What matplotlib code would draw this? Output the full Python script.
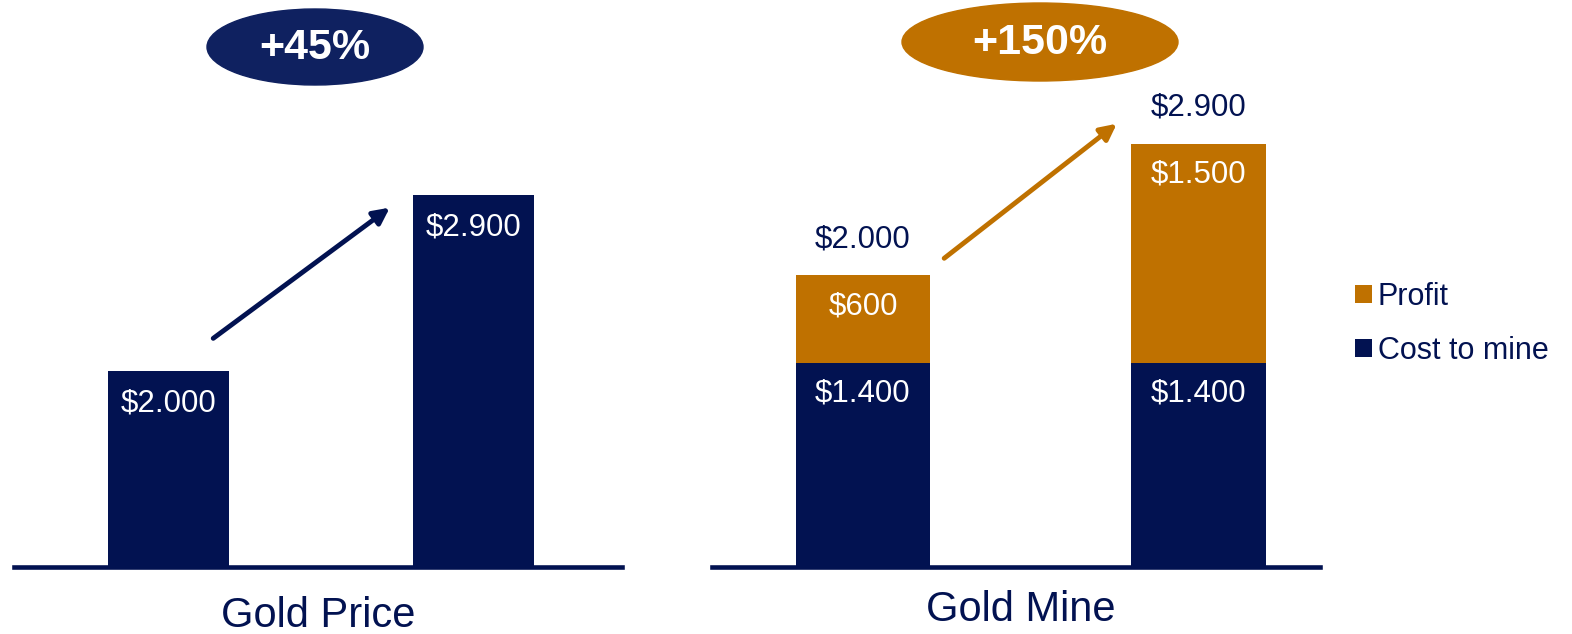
import matplotlib.pyplot as plt
from matplotlib.patches import Ellipse

plt.rcParams['font.family'] = ['Liberation Sans', 'DejaVu Sans']

navy = '#021251'
ell_navy = '#0f2160'
gold = '#bf7100'

# data
price_values = [2000, 2900]
mine_cost = [1400, 1400]
mine_profit = [600, 1500]
price_change = '+45%'
mine_change = '+150%'

W, H = 1572, 634
fig = plt.figure(figsize=(W / 100, H / 100), dpi=100)


def px_axes(x0, x1, y_top, y_bot):
    return fig.add_axes([x0 / W, 1 - y_bot / H, (x1 - x0) / W, (y_bot - y_top) / H])


def style(ax):
    for s in ['top', 'left', 'right']:
        ax.spines[s].set_visible(False)
    ax.spines['bottom'].set_color(navy)
    ax.spines['bottom'].set_linewidth(3.3)
    ax.set_xticks([])
    ax.set_yticks([])
    ax.patch.set_alpha(0)


def money(v):
    return '$' + f'{v:,}'.replace(',', '.')


def label(ax, x, y, v, dy, color='white'):
    # dy in pixels, converted to points
    ax.annotate(money(v), (x, y), xytext=(0, dy * 0.72), textcoords='offset points',
                ha='center', va='center', color=color, fontsize=fs)


base = 566.5
fs = 22.5

# left panel: gold price
ax1 = px_axes(14, 622, 0, base)
style(ax1)
bot = 1003
ax1.set_ylim(bot, bot + base / 0.1956)
ax1.set_xlim(-0.5066, 1.487)
ax1.bar([0, 1], price_values, width=0.397, color=navy)
for x, v in zip([0, 1], price_values):
    label(ax1, x, v, v, -32)

# right panel: gold mine
ax2 = px_axes(712, 1320, 0, base)
style(ax2)
ax2.set_ylim(0, base / 0.1457)
ax2.set_xlim(-0.450, 1.362)
ax2.bar([0, 1], mine_cost, width=0.4, color=navy, label='Cost to mine')
ax2.bar([0, 1], mine_profit, width=0.4, bottom=mine_cost, color=gold, label='Profit')
for x, c, p in zip([0, 1], mine_cost, mine_profit):
    label(ax2, x, c, c, -31)
    label(ax2, x, c + p, p, -31)
    label(ax2, x, c + p, c + p, 36, color=navy)

h, l = ax2.get_legend_handles_labels()
fig.legend(h[::-1], l[::-1], loc='center left', bbox_to_anchor=(1355 / W, 1 - 324 / H),
           frameon=False, fontsize=22, labelcolor=navy, handlelength=0.55, handleheight=0.55,
           handletextpad=0.2, labelspacing=0.78, borderpad=0, borderaxespad=0)

# overlay for badges, arrows and titles
ov = fig.add_axes([0, 0, 1, 1])
ov.set_xlim(0, W)
ov.set_ylim(H, 0)
ov.axis('off')
ov.add_patch(Ellipse((315, 47), 216, 76, color=ell_navy))
ov.text(315, 48, price_change, ha='center', va='center', color='white',
        fontsize=31, fontweight='bold')
ov.add_patch(Ellipse((1040, 42), 276, 78, color=gold))
ov.text(1040, 43, mine_change, ha='center', va='center', color='white',
        fontsize=31, fontweight='bold')

ov.annotate('', xy=(392, 206), xytext=(211, 340),
            arrowprops=dict(arrowstyle='-|>', color=navy, lw=3.5, mutation_scale=24))
ov.annotate('', xy=(1119, 122), xytext=(942, 260),
            arrowprops=dict(arrowstyle='-|>', color=gold, lw=3.5, mutation_scale=24))

ov.text(318, 616, 'Gold Price', ha='center', va='center', color=navy, fontsize=30)
ov.text(1021, 610, 'Gold Mine', ha='center', va='center', color=navy, fontsize=30)

fig.savefig('out.png', dpi=100)
